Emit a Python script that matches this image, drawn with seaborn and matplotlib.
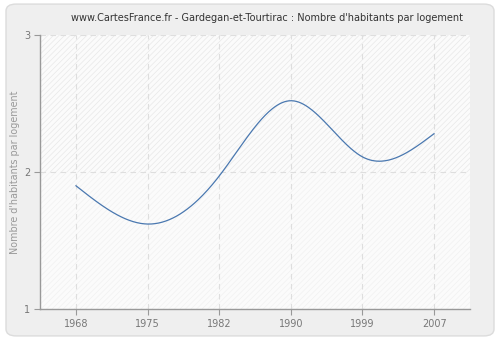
import numpy as np
import matplotlib
matplotlib.use("Agg")
import matplotlib.pyplot as plt
import seaborn as sns
from matplotlib.patches import FancyBboxPatch, Rectangle

years = ["1968", "1975", "1982", "1990", "1999", "2007"]
values = [1.90, 1.62, 1.97, 2.52, 2.11, 2.28]
title = "www.CartesFrance.fr - Gardegan-et-Tourtirac : Nombre d'habitants par logement"
ylabel = "Nombre d'habitants par logement"


def natural_spline(x, y, n=300):
    x = np.asarray(x, float)
    y = np.asarray(y, float)
    k = len(x)
    h = np.diff(x)
    A = np.zeros((k, k))
    b = np.zeros(k)
    A[0, 0] = 1
    A[-1, -1] = 1
    for i in range(1, k - 1):
        A[i, i - 1] = h[i - 1]
        A[i, i] = 2 * (h[i - 1] + h[i])
        A[i, i + 1] = h[i]
        b[i] = 3 * ((y[i + 1] - y[i]) / h[i] - (y[i] - y[i - 1]) / h[i - 1])
    c = np.linalg.solve(A, b)
    xs = np.linspace(x[0], x[-1], n)
    ys = np.empty_like(xs)
    for j, t in enumerate(xs):
        i = min(np.searchsorted(x, t, side="right") - 1, k - 2)
        dx = t - x[i]
        bi = (y[i + 1] - y[i]) / h[i] - h[i] * (2 * c[i] + c[i + 1]) / 3
        di = (c[i + 1] - c[i]) / (3 * h[i])
        ys[j] = y[i] + bi * dx + c[i] * dx ** 2 + di * dx ** 3
    return xs, ys


sns.set_theme(style="white")
plt.rcParams["font.family"] = ["DejaVu Sans"]
plt.rcParams["hatch.linewidth"] = 0.5

fig = plt.figure(figsize=(5, 3.4), dpi=100)
fig.patch.set_facecolor("white")
panel = FancyBboxPatch((0.012, 0.012), 0.976, 0.976,
                       boxstyle="round,pad=0,rounding_size=0.02",
                       transform=fig.transFigure, facecolor="#efefef",
                       edgecolor="#dcdcdc", linewidth=1.0, zorder=-10)
fig.patches.append(panel)

ax = fig.add_axes([0.08, 0.0912, 0.86, 0.806])
ax.set_zorder(1)
ax.set_facecolor("#fbfbfb")

pos = np.arange(len(years))
xs, ys = natural_spline(pos, values)

ax.set_xlim(-0.5, len(years) - 0.5)
ax.set_ylim(1, 3)

# hatched background
ax.add_patch(Rectangle((-0.5, 2), len(years), 1, facecolor="none",
                       edgecolor="#e8e8e8", hatch="//////", linewidth=0, zorder=0))
ax.add_patch(Rectangle((-0.5, 1), len(years), 1, facecolor="none",
                       edgecolor="#f1f1f1", hatch="//////", linewidth=0, zorder=0))

sns.lineplot(x=xs, y=ys, ax=ax, color="#4a78b0", linewidth=0.9, zorder=3)

ax.set_xticks(pos)
ax.set_xticklabels(years)
ax.set_yticks([1, 2, 3])
ax.set_yticklabels(["1", "2", "3"])

ax.grid(True, color="#dedede", linestyle=(0, (5, 4)), linewidth=0.8)
ax.set_axisbelow(True)

for s in ["top", "right"]:
    ax.spines[s].set_visible(False)
for s in ["left", "bottom"]:
    ax.spines[s].set_color("#999999")
    ax.spines[s].set_linewidth(1.0)

ax.tick_params(axis="both", which="major", direction="out", length=4, width=0.8,
               color="#999999", labelcolor="#777777", labelsize=7,
               bottom=True, left=True, pad=3)

ax.set_ylabel(ylabel, color="#999999", fontsize=6.9, labelpad=3)
ax.set_xlabel("")
ax.set_title(title, color="#333333", fontsize=7.0, pad=10, x=0.529)

fig.savefig("out.png", dpi=100, facecolor=fig.get_facecolor())
